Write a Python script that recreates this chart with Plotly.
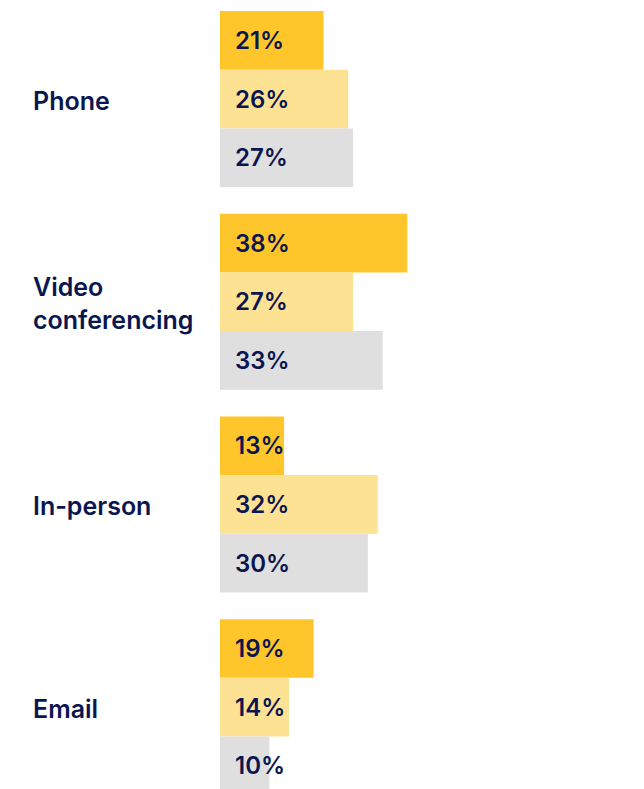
import plotly.graph_objects as go

# Contact channels and the share of respondents for each of three series
categories = ["Phone", "Video<br>conferencing", "In-person", "Email"]
series_a = [21, 38, 13, 19]
series_b = [26, 27, 32, 14]
series_c = [27, 33, 30, 10]
series_names = ["Series A", "Series B", "Series C"]
series_colors = ["#FFC62B", "#FEE293", "#DFDFDF"]

TEXT = "#0B1650"
FONT = "Inter"
BAR_PX = 58.7

fig = go.Figure()
all_series = [series_a, series_b, series_c]
for name, vals, color in zip(series_names, all_series, series_colors):
    fig.add_trace(go.Bar(
        y=categories, x=vals, orientation="h", name=name,
        marker=dict(color=color, line=dict(width=0)),
        hoverinfo="skip",
    ))

# value labels sitting near the left edge of each bar
for j, vals in enumerate(all_series):
    for cat, v in zip(categories, vals):
        fig.add_annotation(
            x=0, y=cat, xref="x", yref="y", text=f"{v}%",
            xanchor="left", yanchor="middle", xshift=13,
            yshift=-(j - 1) * BAR_PX, showarrow=False,
            font=dict(family=FONT, size=24, color=TEXT, weight=600),
        )

# category labels on the left
for cat in categories:
    fig.add_annotation(
        x=-189 / 424, xref="paper", y=cat, yref="y", text=cat,
        xanchor="left", yanchor="middle", align="left", showarrow=False,
        yshift=-2,
        font=dict(family=FONT, size=25, color=TEXT, weight=600),
    )

fig.update_layout(
    width=644, height=789,
    margin=dict(l=220, r=0, t=0, b=0),
    barmode="group", bargap=0.132, bargroupgap=0,
    plot_bgcolor="white", paper_bgcolor="white",
    showlegend=False,
    xaxis=dict(range=[0, 86], visible=False),
    yaxis=dict(range=[3.404, -0.4887], visible=False),
)

fig.write_html("out.html")
